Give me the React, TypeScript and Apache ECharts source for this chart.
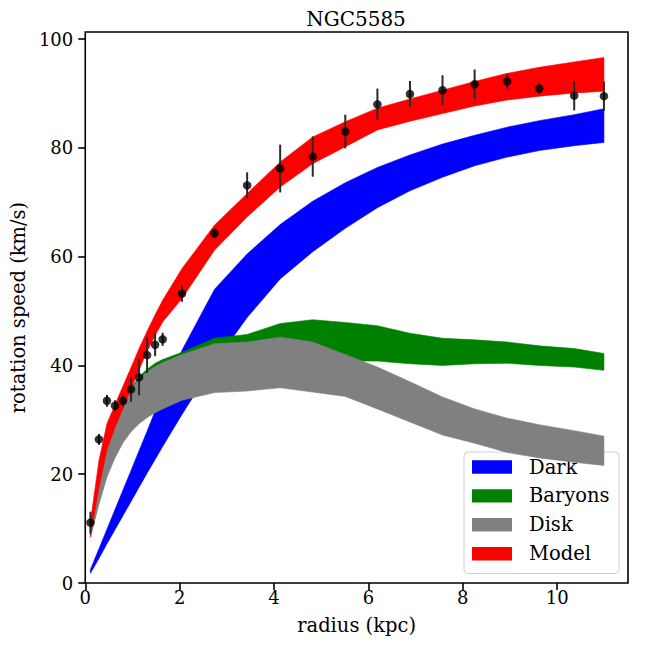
import React, { useEffect, useRef } from "react";
import * as echarts from "echarts";

const radii = [0.11, 0.29, 0.46, 0.63, 0.8, 0.97, 1.14, 1.31, 1.48, 1.64, 2.05, 2.74, 3.43, 4.13, 4.82, 5.51, 6.19, 6.88, 7.57, 8.25, 8.94, 9.62, 10.36, 10.99];
const velocity = [11.1, 26.4, 33.5, 32.6, 33.5, 35.6, 37.8, 41.9, 43.8, 44.8, 53.2, 64.3, 73.1, 76.2, 78.4, 83.0, 88.0, 89.9, 90.6, 91.7, 92.2, 90.9, 89.6, 89.5];
const velocityErr = [2.0, 1.0, 1.1, 1.0, 1.0, 2.3, 3.3, 3.3, 2.1, 1.2, 1.5, 0.9, 2.4, 4.4, 3.7, 3.1, 2.9, 2.4, 2.75, 2.7, 1.35, 1.0, 2.7, 2.7];

const darkLow = [1.8, 4.5, 7.2, 9.8, 12.4, 15.0, 17.6, 20.2, 22.7, 25.1, 31.0, 40.5, 48.8, 55.9, 60.9, 65.2, 69.0, 72.1, 74.6, 76.7, 78.3, 79.5, 80.4, 81.0];
const darkHigh = [2.5, 6.3, 9.9, 13.5, 17.1, 20.7, 24.3, 27.9, 31.6, 35.0, 42.8, 54.0, 60.5, 65.9, 70.2, 73.6, 76.4, 78.7, 80.7, 82.3, 83.8, 85.0, 86.1, 87.2];

const baryonLow = [8.6, 15.0, 20.0, 23.5, 26.3, 28.3, 29.9, 31.0, 32.0, 32.7, 34.5, 36.5, 37.5, 39.0, 40.0, 40.8, 40.8, 40.3, 40.0, 40.3, 40.4, 40.0, 39.7, 39.1];
const baryonHigh = [10.2, 19.8, 25.8, 30.3, 33.5, 35.8, 37.9, 39.3, 40.4, 41.1, 42.4, 45.0, 45.7, 47.7, 48.4, 47.9, 47.3, 45.9, 45.0, 44.7, 44.3, 43.6, 43.1, 42.2];

const diskLow = [8.5, 14.5, 19.5, 23.0, 25.8, 27.8, 29.3, 30.4, 31.3, 32.0, 33.6, 35.0, 35.3, 35.9, 35.1, 34.3, 32.0, 29.6, 27.2, 25.7, 24.0, 23.0, 22.2, 21.6];
const diskHigh = [10.0, 19.5, 25.5, 30.0, 33.2, 35.5, 37.5, 38.8, 39.8, 40.5, 42.0, 44.0, 44.3, 45.2, 44.3, 42.0, 39.7, 37.0, 34.2, 32.0, 30.3, 29.1, 28.0, 27.0];

const modelLow = [8.5, 17.5, 24.5, 28.6, 32.1, 35.6, 39.2, 42.6, 45.5, 48.0, 52.3, 61.2, 67.3, 72.8, 77.1, 80.2, 83.3, 84.9, 86.3, 87.7, 88.8, 89.5, 90.1, 90.4];
const modelHigh = [11.3, 22.5, 29.3, 32.8, 36.2, 39.6, 43.1, 46.3, 49.3, 52.0, 57.8, 65.8, 71.6, 77.4, 82.0, 84.8, 87.3, 89.0, 90.6, 92.2, 93.7, 94.8, 95.8, 96.6];

const bandNames = ["Dark", "Baryons", "Disk", "Model"];
const bandColors = ["#0000ff", "#008000", "#808080", "#ff0000"];
const bandLows = [darkLow, baryonLow, diskLow, modelLow];
const bandHighs = [darkHigh, baryonHigh, diskHigh, modelHigh];

const xTicks = [0, 2, 4, 6, 8, 10];
const yTicks = [0, 20, 40, 60, 80, 100];

const FONT = "DejaVu Serif";

export default function App() {
  const ref = useRef<HTMLDivElement>(null);
  useEffect(() => {
    if (!ref.current) return;
    const chart = echarts.init(ref.current, undefined, { renderer: "svg" });
    const series: any[] = [];
    bandNames.forEach((name, i) => {
      const low = bandLows[i];
      const high = bandHighs[i];
      const color = bandColors[i];
      series.push({
        name,
        type: "custom",
        data: radii.map((r, k) => [r, low[k], high[k]]),
        encode: { x: 0, y: [1, 2] },
        itemStyle: { color },
        clip: true,
        silent: true,
        renderItem: (params: any, api: any) => {
          if (params.dataIndex !== 0) return null;
          const pts: number[][] = [];
          for (let k = 0; k < radii.length; k++) pts.push(api.coord([radii[k], high[k]]));
          for (let k = radii.length - 1; k >= 0; k--) pts.push(api.coord([radii[k], low[k]]));
          return {
            type: "polygon",
            shape: { points: pts },
            style: { fill: color, stroke: color, lineWidth: 0.6 },
          };
        },
      });
    });
    series.push({
      name: "errors",
      type: "custom",
      data: radii.map((r, k) => [r, velocity[k], velocityErr[k]]),
      encode: { x: 0, y: 1 },
      renderItem: (params: any, api: any) => {
        const x = api.value(0);
        const y = api.value(1);
        const e = api.value(2);
        const p1 = api.coord([x, y - e]);
        const p2 = api.coord([x, y + e]);
        return {
          type: "line",
          shape: { x1: p1[0], y1: p1[1], x2: p2[0], y2: p2[1] },
          style: { stroke: "#2a2a2a", lineWidth: 2 },
        };
      },
      silent: true,
    });
    series.push({
      name: "data",
      type: "scatter",
      data: radii.map((r, k) => [r, velocity[k]]),
      symbol: "circle",
      symbolSize: 8.5,
      itemStyle: { color: "#000000" },
      silent: true,
    });

    // Legend box (drawn as graphic so the serif font is honoured)
    const rowH = 28.9;
    const legendChildren: any[] = [
      {
        type: "rect",
        shape: { x: 0, y: 0, width: 155, height: 121.5, r: 4 },
        style: { fill: "rgba(255,255,255,0.8)", stroke: "#d0d0d0", lineWidth: 1 },
      },
    ];
    bandNames.forEach((name, i) => {
      legendChildren.push({
        type: "rect",
        shape: { x: 8, y: 8.3 + i * rowH, width: 40, height: 13.4 },
        style: { fill: bandColors[i] },
      });
      legendChildren.push({
        type: "text",
        x: 65,
        y: 15 + i * rowH,
        style: {
          text: name,
          fill: "#000",
          font: "19.5px DejaVu Serif",
          textAlign: "left",
          textVerticalAlign: "middle",
        },
      });
    });

    chart.setOption({
      animation: false,
      textStyle: { fontFamily: FONT },
      grid: {
        left: 83,
        top: 32,
        right: 20,
        bottom: 65,
        show: true,
        borderColor: "#000",
        borderWidth: 1.6,
        backgroundColor: "transparent",
      },
      xAxis: {
        type: "value",
        min: 0,
        max: 11.5,
        name: "radius (kpc)",
        nameLocation: "middle",
        nameGap: 32,
        nameTextStyle: { fontFamily: FONT, fontSize: 19.5, color: "#000" },
        splitLine: { show: false },
        axisLine: { show: false },
        axisTick: {
          show: true,
          inside: false,
          length: 7,
          lineStyle: { color: "#000", width: 1.6 },
          customValues: xTicks,
        },
        axisLabel: {
          fontFamily: FONT,
          fontSize: 18,
          color: "#000",
          margin: 5,
          customValues: xTicks,
        },
      },
      yAxis: {
        type: "value",
        min: 0,
        max: 101.3,
        name: "rotation speed (km/s)",
        nameLocation: "middle",
        nameGap: 53,
        nameTextStyle: { fontFamily: FONT, fontSize: 19.5, color: "#000" },
        splitLine: { show: false },
        axisLine: { show: false },
        axisTick: {
          show: true,
          inside: false,
          length: 7,
          lineStyle: { color: "#000", width: 1.6 },
          customValues: yTicks,
        },
        axisLabel: {
          fontFamily: FONT,
          fontSize: 18,
          color: "#000",
          margin: 12,
          customValues: yTicks,
        },
      },
      graphic: [
        {
          type: "text",
          x: 356,
          y: 19,
          style: {
            text: "NGC5585",
            fill: "#000",
            font: "20px DejaVu Serif",
            textAlign: "center",
            textVerticalAlign: "middle",
          },
        },
        {
          type: "group",
          x: 464,
          y: 452,
          z: 100,
          children: legendChildren,
        },
      ],
      series,
    });
    return () => chart.dispose();
  }, []);
  return (
    <div
      ref={ref}
      style={{ position: "absolute", left: 0, top: 0, width: 648, height: 648 }}
    />
  );
}
